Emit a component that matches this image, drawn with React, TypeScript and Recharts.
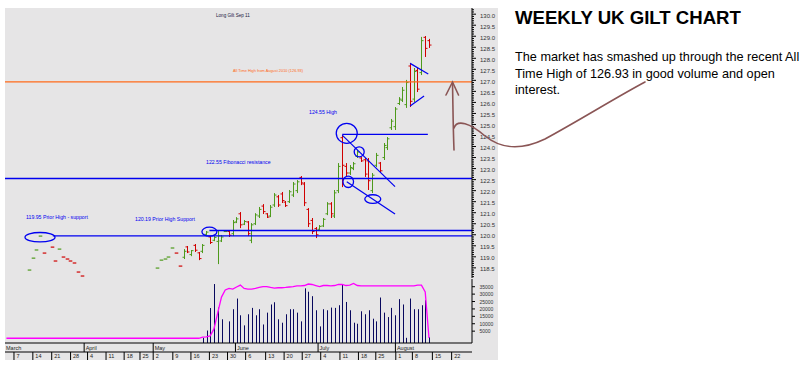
import React from "react";
import {
  ComposedChart,
  Bar,
  Line,
  XAxis,
  YAxis,
  ReferenceLine,
  ReferenceDot,
} from "recharts";

const FONT = "'Liberation Sans', Arial, sans-serif";
const GREEN = "#4e9a1c";
const RED = "#d00000";
const BLUE = "#0000f0";
const NAVY = "#08085e";
const ORANGE = "#ff6a1a";
const BROWN = "#8a5555";
const PANEL = "#e6e5e6";

// trading-day number (1 Mar 2011 = 0) of every price bar, Long Gilt Sep 11
const barDays = [
  8, 9, 10, 11, 12, 14, 15, 16, 17, 18, 19, 20, 21, 22,
  42, 43, 44, 45, 46, 47, 48,
  49, 50, 51, 52, 53, 54, 55, 56, 57, 58, 59, 60, 61, 62, 63, 64, 65, 66, 67, 68,
  69, 70, 71, 72, 73, 74, 75, 76, 77, 78, 79, 80, 81, 82, 83, 84, 85, 86, 87, 88,
  89, 90, 91, 92, 93, 94, 95, 96, 97, 98, 99, 100, 101, 102, 103, 104, 105, 106,
  107, 108, 109, 110, 111, 112, 113, 114,
];
const opens = [
  118.39, 118.93, 119.3, 119.93, 119.17, 119.44, 118.81, 119.34, 118.99, 118.9, 118.81, 118.72, 118.31, 118.13,
  118.48, 118.84, 118.89, 118.98, 119.39, 119.17, 118.58,
  118.98, 119.45, 119.1, 119.52, 119.18, 119.25, 120.02, 119.9, 119.75, 119.7,
  119.72, 120.11, 120.15, 120.05, 120.58, 120.95, 120.48, 120.58, 119.75, 120.5,
  120.85, 121.3, 120.95, 120.85, 121.35, 121.72, 121.85, 121.48, 121.5, 121.8,
  122.0, 122.6, 122.3, 121.15, 120.65, 120.28, 120.25, 120.4, 120.95, 121.4,
  120.85, 122.0, 124.4, 123.1, 122.8, 123.0, 123.55, 123.48, 123.4, 123.35,
  122.0, 123.15, 123.25, 123.5, 123.95, 124.85, 124.9, 125.95, 126.1, 125.9,
  127.65, 126.15, 127.45, 127.35, 128.95, 128.8,
];
const highs = [
  118.4, 118.94, 119.31, 119.94, 119.17, 119.44, 118.81, 119.35, 118.99, 118.9, 118.81, 118.72, 118.31, 118.13,
  118.49, 118.85, 118.9, 118.99, 119.4, 119.17, 118.58,
  119.35, 119.49, 119.31, 119.58, 119.22, 119.58, 120.17, 119.94, 119.94, 120.17,
  119.99, 120.15, 120.21, 120.67, 120.8, 121.03, 120.67, 120.62, 120.53, 120.98,
  121.26, 121.39, 120.98, 121.35, 121.89, 121.8, 121.94, 121.53, 122.03, 122.39,
  122.48, 122.66, 122.39, 121.21, 120.76, 120.35, 120.44, 120.76, 121.48, 121.48,
  122.03, 123.25, 124.52, 123.25, 123.16, 123.3, 123.84, 123.52, 123.48, 123.48,
  122.8, 123.71, 123.3, 124.16, 124.43, 125.25, 125.79, 126.24, 126.7, 127.02,
  127.79, 127.56, 127.56, 128.97, 129.01, 128.88,
];
const lows = [
  118.39, 118.93, 119.3, 119.93, 119.16, 119.43, 118.8, 119.34, 118.98, 118.89, 118.8, 118.71, 118.3, 118.12,
  118.48, 118.84, 118.89, 118.98, 119.39, 119.16, 118.57,
  118.9, 119.17, 119.03, 119.22, 118.85, 119.17, 119.99, 119.58, 119.71, 118.67,
  119.67, 120.1, 119.9, 119.94, 120.53, 120.3, 120.44, 119.94, 119.62, 120.44,
  120.76, 120.94, 120.76, 120.8, 121.26, 121.26, 121.44, 121.26, 121.44, 121.71,
  121.89, 122.25, 121.3, 120.35, 120.03, 119.85, 120.21, 120.35, 120.89, 120.76,
  120.76, 121.89, 122.16, 122.62, 122.71, 122.93, 123.48, 123.3, 122.62, 122.03,
  121.89, 123.07, 122.8, 123.39, 123.84, 124.75, 124.75, 125.88, 126.02, 125.75,
  125.79, 126.02, 126.47, 127.24, 128.06, 128.47,
];
const closes = [
  118.4, 118.94, 119.31, 119.94, 119.16, 119.43, 118.8, 119.35, 118.98, 118.89, 118.8, 118.71, 118.3, 118.12,
  118.49, 118.85, 118.9, 118.99, 119.4, 119.16, 118.57,
  119.25, 119.22, 119.28, 119.3, 118.92, 119.52, 120.12, 119.65, 119.88, 119.95,
  119.9, 120.13, 119.98, 120.55, 120.72, 120.45, 120.6, 120.05, 120.45, 120.9,
  121.15, 121.05, 120.8, 121.25, 121.8, 121.35, 121.55, 121.32, 121.95, 122.3,
  122.4, 122.35, 121.45, 120.5, 120.15, 120.0, 120.38, 120.7, 121.4, 120.95,
  121.9, 123.1, 123.15, 122.8, 123.05, 123.22, 123.75, 123.35, 122.75, 122.45,
  122.7, 123.6, 122.9, 124.05, 124.35, 125.15, 125.7, 126.15, 126.55, 126.9,
  126.05, 127.4, 126.6, 128.8, 128.45, 128.6,
];

// daily volume
const volDays = [
  54, 55, 56, 57, 58, 59, 61, 62, 63, 64, 65, 66, 67, 68, 69, 70, 71, 72, 73, 74,
  75, 76, 77, 78, 79, 80, 81, 82, 83, 84, 85, 86, 87, 88, 89, 90, 91, 92, 93, 94,
  95, 96, 97, 98, 99, 100, 101, 102, 103, 104, 105, 106, 107, 108, 109, 110, 111,
  112, 113, 114,
];
const volumes = [
  500, 5400, 20600, 36800, 20900, 13000, 11600, 19800, 27000, 15700, 8900, 16400,
  20700, 15700, 19800, 9500, 17500, 23000, 24500, 13000, 10700, 16400, 19800,
  19800, 17500, 11600, 33900, 31600, 28600, 19100, 8200, 19800, 19100, 20900,
  20700, 22500, 36800, 24700, 19100, 10700, 10000, 18400, 16400, 19100, 13400,
  11600, 27700, 17500, 14500, 20700, 15700, 26600, 23000, 500, 27000, 19800,
  19800, 22500, 25900, 1000,
];

// open interest
const oiDays = [
  2, 53, 54, 55, 56, 57, 58, 59, 60, 61, 62, 63, 64, 65, 66, 67, 68, 69, 70, 71,
  72, 73, 74, 75, 76, 77, 78, 79, 80, 81, 82, 83, 84, 85, 86, 87, 88, 89, 90, 91,
  92, 93, 94, 95, 96, 100, 105, 110, 111, 112, 113, 114,
];
const openInterest = [
  200, 200, 900, 1100, 1800, 6500, 17300, 28000, 32800, 33900, 33400, 34800,
  36100, 33800, 33400, 33400, 33800, 34500, 35100, 35100, 34500, 34100, 34300,
  34300, 34500, 34800, 35100, 35500, 35500, 35800, 36800, 36500, 35800, 35100,
  35800, 35800, 35500, 35800, 36500, 36600, 35800, 36100, 37200, 35800, 35500,
  35500, 35500, 35500, 36100, 36100, 31400, 400,
];

const priceLabels = [
  118.5, 119, 119.5, 120, 120.5, 121, 121.5, 122, 122.5, 123, 123.5, 124,
  124.5, 125, 125.5, 126, 126.5, 127, 127.5, 128, 128.5, 129, 129.5, 130,
];
const volLabels = [5000, 10000, 15000, 20000, 25000, 30000, 35000];

const weekTickDays = [
  4, 9, 14, 19, 23.5, 28.4, 33.2, 37.4, 40.9, 46.1, 50.9, 55.8, 60.6, 65.4,
  70.7, 75.6, 80.4, 85.3, 90.4, 95.3, 99.9, 105.2, 109.6, 114.9, 120,
];
const weekLabels = [
  "7", "14", "21", "28", "4", "11", "18", "25", "2", "9", "16", "23", "30", "6",
  "13", "20", "27", "4", "11", "18", "25", "1", "8", "15", "22",
];
const monthTickDays = [1.62, 22.6, 40.9, 62.7, 84.6, 105.1];
const monthLabels = ["March", "April", "May", "June", "July", "August"];

// drawn levels
const ATH = 126.93;
const FIB = 122.55;
const HIGH_JUL = 124.55;
const SUPPORT_A = 119.95;
const SUPPORT_B = 120.19;

const X_MIN = 1.62;
const X_MAX = 125.4;
const P_MIN = 118.04;
const P_MAX = 130.28;
const V_MIN = -3000;
const V_MAX = 40200;

const priceData = barDays.map((day, i) => ({
  day,
  o: opens[i],
  h: highs[i],
  l: lows[i],
  c: closes[i],
}));

const volMap: Record<number, any> = {};
volDays.forEach((d, i) => {
  volMap[d] = { ...(volMap[d] || { day: d }), vol: volumes[i] };
});
oiDays.forEach((d, i) => {
  volMap[d] = { ...(volMap[d] || { day: d }), oi: openInterest[i] };
});
const volData = Object.values(volMap).sort((a: any, b: any) => a.day - b.day);

// minor ticks every 0.1 on the price scale
const priceTicks: number[] = [];
for (let k = 1181; k <= 1302; k++) priceTicks.push(k / 10);

const OhlcShape = (props: any) => {
  const { x, y, width, height, payload } = props;
  if (!payload) return null;
  const cx = Math.round(x + width / 2) + 0.5;
  const top = Math.min(y, y + height);
  const h = Math.abs(height);
  const col = payload.c >= payload.o ? GREEN : RED;
  if (h < 1.2) {
    return (
      <line x1={cx - 1.8} x2={cx + 1.8} y1={top} y2={top} stroke={col} strokeWidth={1.2} />
    );
  }
  const span = payload.h - payload.l;
  const at = (v: number) => top + ((payload.h - v) / span) * h;
  return (
    <g stroke={col} strokeWidth={1}>
      <line x1={cx} x2={cx} y1={top} y2={top + h} />
      <line x1={cx - 2} x2={cx} y1={at(payload.o)} y2={at(payload.o)} />
      <line x1={cx} x2={cx + 2} y1={at(payload.c)} y2={at(payload.c)} />
    </g>
  );
};

const VolShape = (props: any) => {
  const { x, y, width, height, payload } = props;
  if (!payload || payload.vol == null) return null;
  const cx = Math.round(x + width / 2) + 0.5;
  const top = Math.min(y, y + height);
  return <line x1={cx} x2={cx} y1={top} y2={top + Math.abs(height)} stroke={NAVY} strokeWidth={1} />;
};

const PriceTick = ({ x, y, payload }: any) => {
  const v = payload.value;
  const major = priceLabels.some((p) => Math.abs(p - v) < 1e-6);
  return (
    <g>
      <line x1={x} x2={x + (major ? 4 : 2)} y1={y} y2={y} stroke="#000" />
      {major && (
        <text x={x + 8} y={y + 3.5} fontSize={6} fill="#333" fontFamily={FONT}>
          {v.toFixed(1)}
        </text>
      )}
    </g>
  );
};

const VolTick = ({ x, y, payload }: any) => (
  <g>
    <line x1={x} x2={x + 3} y1={y} y2={y} stroke="#000" />
    <text x={x + 7.5} y={y + 2} fontSize={5} fill="#333" fontFamily={FONT}>
      {payload.value}
    </text>
  </g>
);

const WeekTick = ({ x, y, payload }: any) => {
  const i = weekTickDays.indexOf(payload.value);
  return (
    <g>
      <line x1={x} x2={x} y1={y} y2={y + 8} stroke="#000" />
      <text x={x + 2.5} y={y + 6.3} fontSize={5.5} fill="#222" fontFamily={FONT}>
        {weekLabels[i]}
      </text>
    </g>
  );
};

const MonthTick = ({ x, y, payload }: any) => {
  const i = monthTickDays.indexOf(payload.value);
  if (i === 0) {
    return (
      <text x={x + 1} y={y + 6.8} fontSize={5.5} fill="#222" fontFamily={FONT}>
        {monthLabels[i]}
      </text>
    );
  }
  return (
    <g>
      <line x1={x} x2={x} y1={y} y2={y + 9} stroke="#000" />
      <text x={x + 1.5} y={y + 6.8} fontSize={5.5} fill="#222" fontFamily={FONT}>
        {monthLabels[i]}
      </text>
    </g>
  );
};

const ring = (rx: number, ry: number) => (p: any) =>
  <ellipse cx={p.cx} cy={p.cy} rx={rx} ry={ry} fill="none" stroke={BLUE} strokeWidth={1.3} />;

const blue = { stroke: BLUE, strokeWidth: 1.4 };

export default function App() {
  return (
    <div
      style={{
        position: "absolute",
        left: 0,
        top: 0,
        width: 804,
        height: 384,
        background: "#fff",
        overflow: "hidden",
        fontFamily: FONT,
      }}
    >
      <div style={{ position: "absolute", left: 5, top: 8, width: 493, height: 352, background: PANEL }} />

      <div style={{ position: "absolute", left: 5, top: 8 }}>
        <ComposedChart width={495} height={270} data={priceData} margin={{ top: 0, right: 0, bottom: 0, left: 0 }}>
          <XAxis
            type="number"
            dataKey="day"
            domain={[X_MIN, X_MAX]}
            allowDataOverflow
            height={0}
            tick={false}
            tickLine={false}
            axisLine={{ stroke: "#000", strokeWidth: 1.5 }}
          />
          <YAxis
            orientation="right"
            type="number"
            domain={[P_MIN, P_MAX]}
            allowDataOverflow
            ticks={priceTicks}
            interval={0}
            tick={<PriceTick />}
            tickLine={false}
            tickSize={0}
            tickMargin={0}
            axisLine={{ stroke: "#000" }}
            width={28}
          />
          <ReferenceLine y={ATH} stroke={ORANGE} strokeWidth={1.4} />
          <ReferenceLine y={FIB} {...blue} />
          <ReferenceLine segment={[{ x: 14.3, y: SUPPORT_A }, { x: X_MAX, y: SUPPORT_A }]} {...blue} />
          <ReferenceLine segment={[{ x: 55.8, y: SUPPORT_B }, { x: X_MAX, y: SUPPORT_B }]} {...blue} />
          <ReferenceLine segment={[{ x: 91, y: HIGH_JUL }, { x: 113.7, y: HIGH_JUL }]} {...blue} />
          <ReferenceLine segment={[{ x: 91, y: 124.52 }, { x: 105, y: 122.18 }]} stroke={BLUE} strokeWidth={1.2} />
          <ReferenceLine segment={[{ x: 92.2, y: 122.4 }, { x: 105, y: 120.94 }]} stroke={BLUE} strokeWidth={1.2} />
          <ReferenceLine segment={[{ x: 109, y: 127.77 }, { x: 113.8, y: 127.29 }]} stroke={BLUE} strokeWidth={1.2} />
          <ReferenceLine segment={[{ x: 109, y: 125.84 }, { x: 112.7, y: 126.29 }]} stroke={BLUE} strokeWidth={1.2} />
          <ReferenceDot x={10.9} y={119.89} shape={ring(15, 4.7)} />
          <ReferenceDot x={55.8} y={120.14} shape={ring(7.5, 4.5)} />
          <ReferenceDot x={92.2} y={124.6} shape={ring(10.5, 10)} />
          <ReferenceDot x={95.5} y={123.76} shape={ring(5, 5)} />
          <ReferenceDot x={92.6} y={122.4} shape={ring(5.3, 5.7)} />
          <ReferenceDot x={99.1} y={121.62} shape={ring(8, 4.3)} />
          <Bar
            dataKey={(d: any) => [d.l, d.h]}
            barSize={4}
            shape={(p: any) => <OhlcShape {...p} />}
            isAnimationActive={false}
          />
        </ComposedChart>
      </div>

      <div style={{ position: "absolute", left: 5, top: 279 }}>
        <ComposedChart width={495} height={81} data={volData} margin={{ top: 0, right: 0, bottom: 0, left: 0 }}>
          <XAxis
            xAxisId="w"
            type="number"
            dataKey="day"
            domain={[X_MIN, X_MAX]}
            allowDataOverflow
            ticks={weekTickDays}
            interval={0}
            tick={<WeekTick />}
            tickLine={false}
            tickSize={0}
            tickMargin={0}
            height={8}
            axisLine={{ stroke: "#000", strokeWidth: 1.2 }}
          />
          <XAxis
            xAxisId="m"
            type="number"
            dataKey="day"
            domain={[X_MIN, X_MAX]}
            allowDataOverflow
            ticks={monthTickDays}
            interval={0}
            tick={<MonthTick />}
            tickLine={false}
            tickSize={0}
            tickMargin={0}
            height={9}
            axisLine={{ stroke: "#000", strokeWidth: 1.2 }}
          />
          <YAxis
            orientation="right"
            type="number"
            domain={[V_MIN, V_MAX]}
            allowDataOverflow
            ticks={volLabels}
            interval={0}
            tick={<VolTick />}
            tickLine={false}
            tickSize={0}
            tickMargin={0}
            axisLine={{ stroke: "#000" }}
            width={28}
          />
          <Bar
            xAxisId="w"
            dataKey={(d: any) => (d.vol == null ? undefined : [V_MIN, d.vol])}
            barSize={2}
            shape={(p: any) => <VolShape {...p} />}
            isAnimationActive={false}
          />
          <Line
            xAxisId="m"
            dataKey="oi"
            type="linear"
            stroke="#ff00ff"
            strokeWidth={1.3}
            dot={false}
            connectNulls
            isAnimationActive={false}
          />
        </ComposedChart>
      </div>

      <svg
        width={804}
        height={384}
        style={{ position: "absolute", left: 0, top: 0, pointerEvents: "none" }}
        fontFamily={FONT}
      >
        <text x={216} y={17.3} fontSize={4.6} fill="#1a1a40">Long Gilt Sep 11</text>
        <text x={233} y={71.5} fontSize={3.9} fill={ORANGE}>All Time High from August 2010 (126.93)</text>
        <text x={26} y={219} fontSize={5.2} fill={BLUE}>119.95 Prior High - support</text>
        <text x={135} y={221} fontSize={5.2} fill={BLUE}>120.19 Prior High Support</text>
        <text x={206} y={163.5} fontSize={5.2} fill={BLUE}>122.55 Fibonacci resistance</text>
        <text x={309} y={113.5} fontSize={5.2} fill={BLUE}>124.55 High</text>

        <g stroke={BROWN} strokeWidth={1.6} fill="none" strokeLinecap="round">
          <path d="M454,150 C453,125 453,105 452.5,83" />
          <path d="M446,95 L452.5,82 L458.5,95" />
          <path d="M454,128 C457,119 470,123 485,136 C500,148 520,151 545,139 C580,120 615,98 645,82" />
        </g>

        <text x={515} y={23.5} fontSize={18.6} fontWeight="bold" fill="#000">WEEKLY UK GILT CHART</text>
        <text x={515} y={60.5} fontSize={12.7} fill="#000">The market has smashed up through the recent All</text>
        <text x={515} y={77.5} fontSize={12.7} fill="#000">Time High of 126.93 in good volume and open</text>
        <text x={515} y={93.5} fontSize={12.7} fill="#000">interest.</text>
      </svg>
    </div>
  );
}
